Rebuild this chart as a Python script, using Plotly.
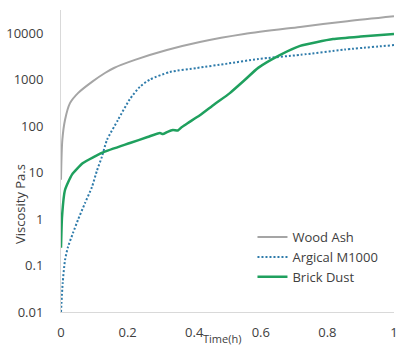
import plotly.graph_objects as go

# Viscosity development over time (log scale)
wood_t = [0.0, 0.004, 0.012, 0.027, 0.051, 0.093, 0.132, 0.159, 0.222, 0.318, 0.417,
          0.55, 0.718, 0.86, 1.0]
wood_v = [7, 50, 135, 310, 510, 890, 1380, 1770, 2640, 4300, 6400,
          9500, 13500, 18000, 23000]

argical_t = [0.0, 0.005, 0.012, 0.021, 0.036, 0.051, 0.072, 0.093, 0.108, 0.123, 0.138,
             0.171, 0.207, 0.237, 0.267, 0.327, 0.408, 0.5, 0.592, 0.72, 0.85, 1.0]
argical_v = [0.01, 0.042, 0.13, 0.25, 0.5, 0.96, 2.2, 4.9, 11, 22, 50,
             135, 380, 700, 1000, 1450, 1770, 2200, 2760, 3400, 4400, 5500]

brick_t = [0.0, 0.003, 0.012, 0.033, 0.066, 0.126, 0.207, 0.26, 0.297, 0.306, 0.32, 0.336,
           0.351, 0.363, 0.38, 0.417, 0.46, 0.507, 0.55, 0.592, 0.657, 0.718, 0.817, 0.9, 1.0]
brick_v = [0.24, 1.1, 4.2, 9, 16, 27, 43, 58, 71, 67, 75, 82,
           80, 95, 115, 170, 290, 510, 950, 1780, 3350, 5300, 7400, 8400, 9500]

y_ticks = [0.01, 0.1, 1, 10, 100, 1000, 10000]
y_tick_text = ["0.01", "0.1", "1", "10", "100", "1000", "10000"]
x_ticks = [0, 0.2, 0.4, 0.6, 0.8, 1]
x_tick_text = ["0", "0.2", "0.4", "0.6", "0.8", "1"]

FONT = "Open Sans"
TEXT_COLOR = "#404040"

fig = go.Figure()
fig.add_trace(go.Scatter(
    x=wood_t, y=wood_v, name="Wood Ash", mode="lines",
    line=dict(color="#A5A5A5", width=2, shape="spline", smoothing=0.8),
))
fig.add_trace(go.Scatter(
    x=argical_t, y=argical_v, name="Argical M1000", mode="lines",
    line=dict(color="#2E7BAA", width=2, dash="2px,2px", shape="spline", smoothing=0.6),
))
fig.add_trace(go.Scatter(
    x=brick_t, y=brick_v, name="Brick Dust", mode="lines",
    line=dict(color="#1FA05E", width=2.5, shape="spline", smoothing=0.5),
))

fig.update_layout(
    width=396, height=345,
    margin=dict(l=61, r=2, t=10, b=33),
    paper_bgcolor="white", plot_bgcolor="white",
    font=dict(family=FONT, size=13, color=TEXT_COLOR),
    showlegend=True,
    legend=dict(
        x=0.575, y=0.182, xanchor="left", yanchor="middle",
        bgcolor="rgba(0,0,0,0)", font=dict(size=13, color=TEXT_COLOR),
        itemwidth=30, tracegroupgap=0,
    ),
    xaxis=dict(
        range=[0, 1], tickvals=x_ticks, ticktext=x_tick_text,
        showgrid=False, zeroline=False, automargin=False,
        showline=True, linecolor="#D9D9D9", linewidth=1,
        ticks="", ticklabelstandoff=8, ticklabeloverflow="allow",
    ),
    yaxis=dict(
        type="log", range=[-2, 4.495], tickvals=y_ticks, ticktext=y_tick_text,
        showgrid=False, zeroline=False, automargin=False,
        showline=True, linecolor="#D9D9D9", linewidth=1,
        ticks="", ticklabelstandoff=14,
    ),
    annotations=[
        dict(text="Time(h)", xref="paper", yref="paper",
             x=(222 - 61) / 333, y=-(338 - 312) / 302,
             xanchor="center", yanchor="middle", showarrow=False,
             font=dict(size=11, color=TEXT_COLOR)),
        dict(text="Viscosity Pa.s", xref="paper", yref="paper",
             x=-(61 - 20) / 333, y=(312 - 204) / 302,
             xanchor="center", yanchor="middle", showarrow=False,
             textangle=-90, font=dict(size=13, color=TEXT_COLOR)),
    ],
)

fig.write_html("out.html")
